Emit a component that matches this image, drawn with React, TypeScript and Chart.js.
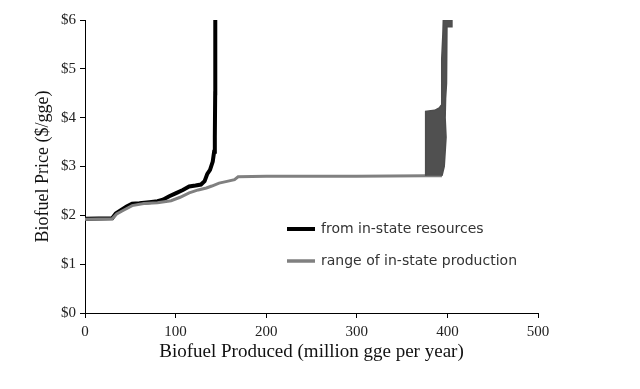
import React, { useEffect, useRef } from "react";
import { Chart, registerables } from "chart.js";

Chart.register(...registerables);

// Black series: "from in-state resources"
const inStateX = [0, 30, 34, 40, 46, 52, 60, 71, 80, 86, 93, 100, 108, 115, 122, 128, 132, 135, 138, 141, 142.5, 143.3, 143.7, 143.8];
const inStateY = [1.93, 1.94, 2.04, 2.11, 2.18, 2.24, 2.25, 2.27, 2.29, 2.32, 2.39, 2.45, 2.52, 2.59, 2.61, 2.63, 2.7, 2.85, 2.93, 3.1, 3.3, 3.6, 4.5, 6.0];

// Gray series: "range of in-state production" (lower curve)
const rangeX = [0, 30, 35, 42, 52, 65, 80, 95, 105, 115, 125, 134, 140, 148, 158, 165, 169, 200, 300, 376, 394];
const rangeY = [1.92, 1.93, 2.03, 2.1, 2.2, 2.24, 2.26, 2.3, 2.37, 2.46, 2.52, 2.56, 2.6, 2.66, 2.7, 2.73, 2.79, 2.8, 2.8, 2.81, 2.81];

// Gray series: range band outline near the top of production
const bandX = [376, 376, 386, 391, 393, 393.5, 394, 395, 395.5, 405, 405, 399.5, 399.5, 399, 398.5, 398, 397.5, 398.5, 397.5, 396.5, 394];
const bandY = [2.81, 4.13, 4.15, 4.2, 4.25, 4.6, 5.2, 5.7, 6.0, 6.0, 5.86, 5.86, 5.5, 5.0, 4.7, 4.4, 4.0, 3.6, 3.3, 3.0, 2.81];

const xTicks = [0, 100, 200, 300, 400, 500];
const yTickLabels = ["$0", "$1", "$2", "$3", "$4", "$5", "$6"];

const legendLabels = ["from in-state resources", "range of in-state production"];
const legendColors = ["#000000", "#808080"];

const toPts = (xs: number[], ys: number[]) => xs.map((x, i) => ({ x, y: ys[i] }));

export default function App() {
  const ref = useRef<HTMLCanvasElement | null>(null);

  useEffect(() => {
    if (!ref.current) return;
    const legendPlugin = {
      id: "customLegend",
      afterDatasetsDraw(chart: any) {
        const { ctx, chartArea } = chart;
        const x0 = chartArea.left + 202;
        const ys = [chartArea.top + 209, chartArea.top + 241];
        ctx.save();
        legendLabels.forEach((label, i) => {
          ctx.strokeStyle = legendColors[i];
          ctx.lineWidth = i === 0 ? 4 : 3.5;
          ctx.beginPath();
          ctx.moveTo(x0, ys[i]);
          ctx.lineTo(x0 + 28, ys[i]);
          ctx.stroke();
          ctx.fillStyle = "#333";
          ctx.font = "14px 'DejaVu Sans'";
          ctx.textBaseline = "middle";
          ctx.textAlign = "left";
          ctx.fillText(label, x0 + 34, ys[i]);
        });
        ctx.restore();
      },
    };

    const chart = new Chart(ref.current, {
      type: "scatter",
      data: {
        datasets: [
          {
            label: "range band",
            data: toPts(bandX, bandY),
            showLine: true,
            borderColor: "#4d4d4d",
            backgroundColor: "#505050",
            borderWidth: 1.5,
            pointRadius: 0,
            fill: "shape",
            tension: 0,
          } as any,
          {
            label: legendLabels[1],
            data: toPts(rangeX, rangeY),
            showLine: true,
            borderColor: "#808080",
            borderWidth: 3,
            pointRadius: 0,
            fill: false,
            tension: 0,
          },
          {
            label: legendLabels[0],
            data: toPts(inStateX, inStateY),
            showLine: true,
            borderColor: "#000000",
            borderWidth: 4,
            pointRadius: 0,
            fill: false,
            tension: 0,
          },
        ],
      },
      options: {
        animation: false,
        responsive: false,
        maintainAspectRatio: false,
        layout: { padding: { top: 20, right: 102, bottom: 0, left: 0 } },
        plugins: {
          legend: { display: false },
          tooltip: { enabled: false },
        },
        scales: {
          x: {
            type: "linear",
            min: 0,
            max: 500,
            afterBuildTicks: (s: any) => {
              s.ticks = xTicks.map((v) => ({ value: v }));
            },
            afterFit: (s: any) => {
              s.height = 76;
            },
            ticks: {
              color: "#222",
              font: { family: "'Liberation Serif'", size: 15 },
              padding: 5,
              maxRotation: 0,
            },
            grid: {
              drawOnChartArea: false,
              drawTicks: true,
              tickLength: 5,
              color: "#000",
            },
            border: { display: true, color: "#000", width: 1 },
            title: {
              display: true,
              text: "Biofuel Produced (million gge per year)",
              color: "#111",
              font: { family: "'Liberation Serif'", size: 19 },
              padding: { top: 0, bottom: 26 },
            },
          },
          y: {
            type: "linear",
            min: 0,
            max: 6,
            afterBuildTicks: (s: any) => {
              s.ticks = yTickLabels.map((_, i) => ({ value: i }));
            },
            afterFit: (s: any) => {
              s.width = 85;
            },
            ticks: {
              color: "#222",
              font: { family: "'Liberation Serif'", size: 15 },
              padding: 4,
              callback: (v: any) => yTickLabels[Math.round(Number(v))] ?? "",
            },
            grid: {
              drawOnChartArea: false,
              drawTicks: true,
              tickLength: 5,
              color: "#000",
            },
            border: { display: true, color: "#000", width: 1 },
            title: {
              display: true,
              text: "Biofuel Price ($/gge)",
              color: "#111",
              font: { family: "'Liberation Serif'", size: 18 },
              padding: { top: 32, bottom: 0 },
            },
          },
        },
      },
      plugins: [legendPlugin],
    });
    return () => chart.destroy();
  }, []);

  return (
    <div style={{ position: "fixed", left: 0, top: 0, width: 640, height: 389, background: "#fff" }}>
      <canvas ref={ref} width={640} height={389} style={{ width: 640, height: 389 }} />
    </div>
  );
}
